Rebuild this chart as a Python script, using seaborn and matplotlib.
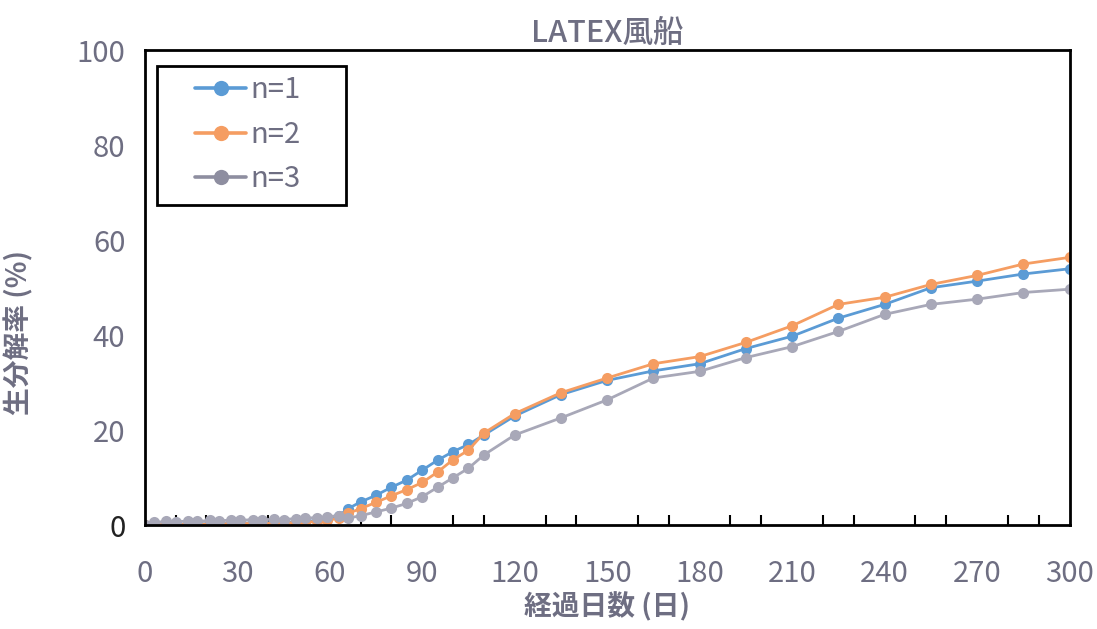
import numpy as np
import pandas as pd
import matplotlib
matplotlib.use("Agg")
import matplotlib.pyplot as plt
from matplotlib.ticker import MultipleLocator
from matplotlib.lines import Line2D
from matplotlib.patches import Rectangle
import seaborn as sns

# Elapsed days of each measurement
days = [0, 3, 7, 10, 14, 17, 21, 24, 28, 31, 35, 38, 42, 45, 49, 52, 56, 59, 63,
        66, 70, 75, 80, 85, 90, 95, 100, 105, 110, 120, 135, 150, 165, 180, 195,
        210, 225, 240, 255, 270, 285, 300]

# Biodegradation (%) for each replicate
n1 = [0.0, 0.1, 0.1, 0.2, 0.2, 0.3, 0.3, 0.3, 0.4, 0.4, 0.5, 0.5, 0.6, 0.6, 0.7, 0.8, 1.0, 1.3, 2.0,
      3.5, 4.9, 6.3, 8.0, 9.5, 11.6, 13.7, 15.5, 17.0, 19.0, 23.0, 27.5, 30.5, 32.5, 34.0, 37.2,
      39.8, 43.6, 46.5, 50.0, 51.4, 52.9, 54.0]
n2 = [0.0, 0.1, 0.1, 0.1, 0.2, 0.2, 0.2, 0.3, 0.3, 0.3, 0.4, 0.4, 0.4, 0.5, 0.5, 0.6, 0.8, 1.0, 1.5,
      2.5, 3.5, 4.8, 6.2, 7.5, 9.0, 11.2, 13.8, 15.8, 19.4, 23.5, 27.9, 31.0, 34.0, 35.5, 38.5,
      42.0, 46.5, 48.0, 50.7, 52.6, 55.0, 56.4]
n3 = [0.0, 0.6, 0.8, 0.7, 0.9, 0.8, 1.0, 0.9, 1.1, 1.0, 1.2, 1.1, 1.3, 1.2, 1.4, 1.5, 1.6, 1.8, 2.0,
      1.5, 2.0, 2.8, 3.6, 4.6, 6.0, 8.0, 10.0, 12.0, 14.8, 19.0, 22.6, 26.4, 31.0, 32.4, 35.3,
      37.6, 40.8, 44.4, 46.5, 47.6, 49.0, 49.7]

series_names = ["n=1", "n=2", "n=3"]
colors = ["#5b9bd5", "#f59d62", "#a8a8b8"]
legend_colors = ["#5b9bd5", "#f59d62", "#8e8ea0"]

x_ticks = [0, 30, 60, 90, 120, 150, 180, 210, 240, 270, 300]
y_ticks = [0, 20, 40, 60, 80, 100]

df = pd.DataFrame({
    "day": days * 3,
    "rate": n1 + n2 + n3,
    "series": [s for s in series_names for _ in days],
})

sns.set_theme(style="white")
plt.rcParams["font.family"] = ["Noto Sans CJK JP", "DejaVu Sans"]

label_color = "#6e6e82"

fig = plt.figure(figsize=(10.97, 6.29), dpi=100)
ax = fig.add_axes([0.132, 0.165, 0.843, 0.755])

sns.lineplot(data=df, x="day", y="rate", hue="series", hue_order=series_names,
             palette=colors, marker="o", markersize=8, markeredgewidth=0,
             linewidth=2.0, ax=ax, legend=False)

ax.set_xlim(0, 300)
ax.set_ylim(0, 100)
ax.set_xticks(x_ticks, [str(v) for v in x_ticks])
ax.set_yticks(y_ticks, [str(v) for v in y_ticks])
ax.xaxis.set_minor_locator(MultipleLocator(10))
ax.tick_params(axis="both", which="major", length=0, labelsize=21,
               labelcolor=label_color)
ax.tick_params(axis="x", which="major", pad=24)
ax.tick_params(axis="y", which="major", pad=14)
ax.tick_params(axis="x", which="minor", direction="in", length=7, width=1.5,
               color="black", bottom=True)
ax.get_yticklabels()[0].set_color("#222222")

for side in ["left", "right", "top", "bottom"]:
    ax.spines[side].set_visible(True)
    ax.spines[side].set_color("black")
    ax.spines[side].set_linewidth(2)

ax.set_title("LATEX風船", fontsize=22, color=label_color, fontweight="medium", pad=6)
ax.set_xlabel("経過日数 (日)", fontsize=20, color=label_color, fontweight="bold")
ax.set_ylabel("生分解率 (%)", fontsize=20, color=label_color, fontweight="bold")
ax.xaxis.set_label_coords(0.5, -0.14)
ax.yaxis.set_label_coords(-0.12, 0.405)

# Legend entries, with a separate, roomier frame around them
handles = [Line2D([0], [0], color=c, marker="o", markersize=11, linewidth=2.6,
                  markeredgewidth=0) for c in legend_colors]
leg = ax.legend(handles, series_names, loc="upper left", bbox_to_anchor=(0.048, 0.96),
                frameon=False, fontsize=21, handlelength=1.75,
                borderpad=0.2, labelspacing=0.5, handletextpad=0.15,
                borderaxespad=0)
for t in leg.get_texts():
    t.set_color(label_color)
ax.add_patch(Rectangle((0.013, 0.674), 0.205, 0.294, transform=ax.transAxes,
                       facecolor="none", edgecolor="black", linewidth=2,
                       zorder=5))

fig.savefig("out.png", dpi=100, facecolor="white")
